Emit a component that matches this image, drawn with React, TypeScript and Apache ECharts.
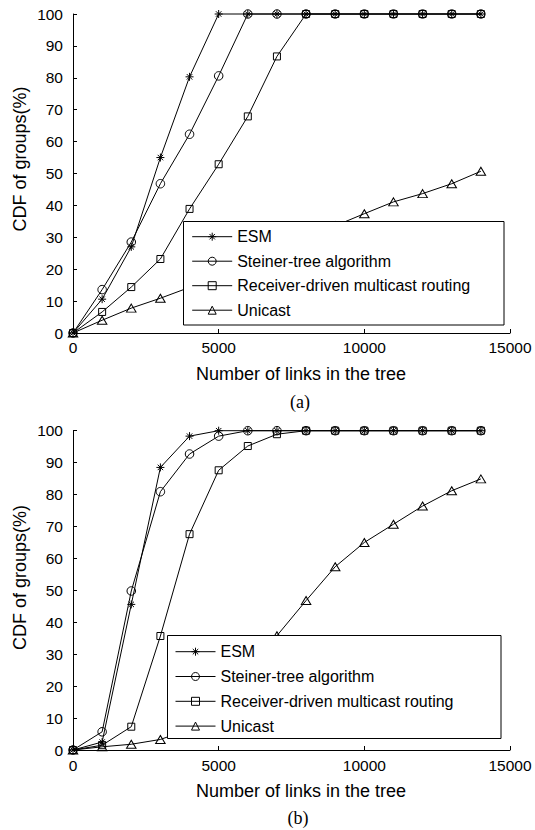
import React, { useEffect, useRef } from "react";
import * as echarts from "echarts";

const xValues = [0, 1000, 2000, 3000, 4000, 5000, 6000, 7000, 8000, 9000, 10000, 11000, 12000, 13000, 14000];
const seriesNames = ["ESM", "Steiner-tree algorithm", "Receiver-driven multicast routing", "Unicast"];

// Panel (a)
const esmA = [0, 10.6, 27, 55, 80.3, 100, 100, 100, 100, 100, 100, 100, 100, 100, 100];
const steinerA = [0, 13.6, 28.5, 46.8, 62.3, 80.6, 100, 100, 100, 100, 100, 100, 100, 100, 100];
const receiverA = [0, 6.6, 14.4, 23.2, 38.9, 52.9, 67.9, 86.7, 100, 100, 100, 100, 100, 100, 100];
const unicastA = [0, 4.0, 7.8, 10.9, 14.3, 18, 22, 26, 30, 33.6, 37.4, 41.1, 43.7, 46.8, 50.7];

// Panel (b)
const esmB = [0, 2.5, 45.6, 88.5, 98.3, 100, 100, 100, 100, 100, 100, 100, 100, 100, 100];
const steinerB = [0, 5.7, 49.8, 80.9, 92.7, 98.3, 100, 100, 100, 100, 100, 100, 100, 100, 100];
const receiverB = [0, 1.5, 7.3, 35.7, 67.6, 87.6, 95.2, 98.9, 100, 100, 100, 100, 100, 100, 100];
const unicastB = [0, 1.0, 1.8, 3.3, 6.5, 14, 24.5, 35.8, 46.8, 57.4, 65, 70.7, 76.4, 81.2, 84.9];

const panelLabels = ["(a)", "(b)"];
const xTitle = "Number of links in the tree";
const yTitle = "CDF of groups(%)";

const SANS = "'Liberation Sans', Arial, sans-serif";
const SERIF = "'Liberation Serif', 'Times New Roman', serif";

const STAR = "path://M5 0L5 10M0 5L10 5M1.6 1.6L8.4 8.4M8.4 1.6L1.6 8.4";
const symbols: any[] = [STAR, "circle", "rect", "triangle"];
const symbolSizes: any[] = [8, 8.5, 7, [9.5, 8]];

function makeSeries(name: string, values: number[], idx: number, k: number) {
  return {
    type: "line",
    name,
    xAxisIndex: idx,
    yAxisIndex: idx,
    data: xValues.map((x, i) => [x, values[i]]),
    symbol: symbols[k],
    symbolSize: symbolSizes[k],
    showSymbol: true,
    showAllSymbol: true,
    clip: false,
    z: 2,
    lineStyle: { color: "#000", width: 1 },
    itemStyle: { color: "transparent", borderColor: "#000", borderWidth: 1 },
    emphasis: { disabled: true },
  };
}

function axisX(idx: number, margin: number) {
  return {
    type: "value",
    gridIndex: idx,
    min: 0,
    max: 15000,
    interval: 5000,
    axisLine: { show: true, lineStyle: { color: "#000", width: 1 } },
    axisTick: { show: true, inside: true, length: 4, lineStyle: { color: "#000" } },
    axisLabel: { color: "#000", fontSize: 15.5, fontFamily: SANS, margin, formatter: (v: number) => String(v) },
    splitLine: { show: false },
  };
}

function axisY(idx: number) {
  return {
    type: "value",
    gridIndex: idx,
    min: 0,
    max: 100,
    interval: 10,
    axisLine: { show: true, lineStyle: { color: "#000", width: 1 } },
    axisTick: { show: true, inside: true, length: 4, lineStyle: { color: "#000" } },
    axisLabel: { color: "#000", fontSize: 15.5, fontFamily: SANS, margin: 10, formatter: (v: number) => String(v) },
    splitLine: { show: false },
  };
}

function legend(left: number, top: number, gap: number) {
  return {
    data: seriesNames,
    orient: "vertical",
    left,
    top,
    padding: 0,
    itemWidth: 40,
    itemHeight: 10,
    itemGap: gap,
    selectedMode: false,
    z: 4,
    itemStyle: { color: "transparent", borderColor: "#000", borderWidth: 1 },
    lineStyle: { color: "#000", width: 1 },
    textStyle: { color: "#000", fontSize: 16, fontFamily: SANS, lineHeight: 16 },
  };
}

export default function App() {
  const ref = useRef<HTMLDivElement>(null);
  useEffect(() => {
    if (!ref.current) return;
    const chart = echarts.init(ref.current, undefined, { renderer: "svg" });
    const option: any = {
      animation: false,
      backgroundColor: "#fff",
      grid: [
        { left: 73, top: 14, width: 437, height: 319, outerBoundsMode: "none", containLabel: false },
        { left: 73, top: 430.7, width: 437, height: 319.3, outerBoundsMode: "none", containLabel: false },
      ],
      xAxis: [axisX(0, 6), axisX(1, 7)],
      yAxis: [axisY(0), axisY(1)],
      legend: [legend(191.7, 228.7, 8.5), legend(175, 643.7, 8.8)],
      series: [
        makeSeries(seriesNames[0], esmA, 0, 0),
        makeSeries(seriesNames[1], steinerA, 0, 1),
        makeSeries(seriesNames[2], receiverA, 0, 2),
        makeSeries(seriesNames[3], unicastA, 0, 3),
        makeSeries(seriesNames[0], esmB, 1, 0),
        makeSeries(seriesNames[1], steinerB, 1, 1),
        makeSeries(seriesNames[2], receiverB, 1, 2),
        makeSeries(seriesNames[3], unicastB, 1, 3),
      ],
      graphic: [
        { type: "rect", z: 3, shape: { x: 183.5, y: 221.5, width: 320.5, height: 103.5 }, style: { fill: "#fff", stroke: "#000", lineWidth: 1 } },
        { type: "rect", z: 3, shape: { x: 167.5, y: 635.5, width: 333.5, height: 103 }, style: { fill: "#fff", stroke: "#000", lineWidth: 1 } },
        { type: "text", x: 19.5, y: 159, rotation: Math.PI / 2, style: { text: yTitle, fill: "#000", fontSize: 18, fontFamily: SANS, align: "center", verticalAlign: "middle" } },
        { type: "text", x: 19.5, y: 577.5, rotation: Math.PI / 2, style: { text: yTitle, fill: "#000", fontSize: 18, fontFamily: SANS, align: "center", verticalAlign: "middle" } },
        { type: "text", x: 301, y: 373.5, style: { text: xTitle, fill: "#000", fontSize: 18, fontFamily: SANS, align: "center", verticalAlign: "middle" } },
        { type: "text", x: 301, y: 791, style: { text: xTitle, fill: "#000", fontSize: 18, fontFamily: SANS, align: "center", verticalAlign: "middle" } },
        { type: "text", x: 300, y: 402, style: { text: panelLabels[0], fill: "#000", fontSize: 18, fontFamily: SERIF, align: "center", verticalAlign: "middle" } },
        { type: "text", x: 298, y: 818, style: { text: panelLabels[1], fill: "#000", fontSize: 18, fontFamily: SERIF, align: "center", verticalAlign: "middle" } },
      ],
    };
    chart.setOption(option);
    return () => chart.dispose();
  }, []);
  return (
    <div
      ref={ref}
      style={{ position: "fixed", left: 0, top: 0, width: 535, height: 830, background: "#fff" }}
    />
  );
}
